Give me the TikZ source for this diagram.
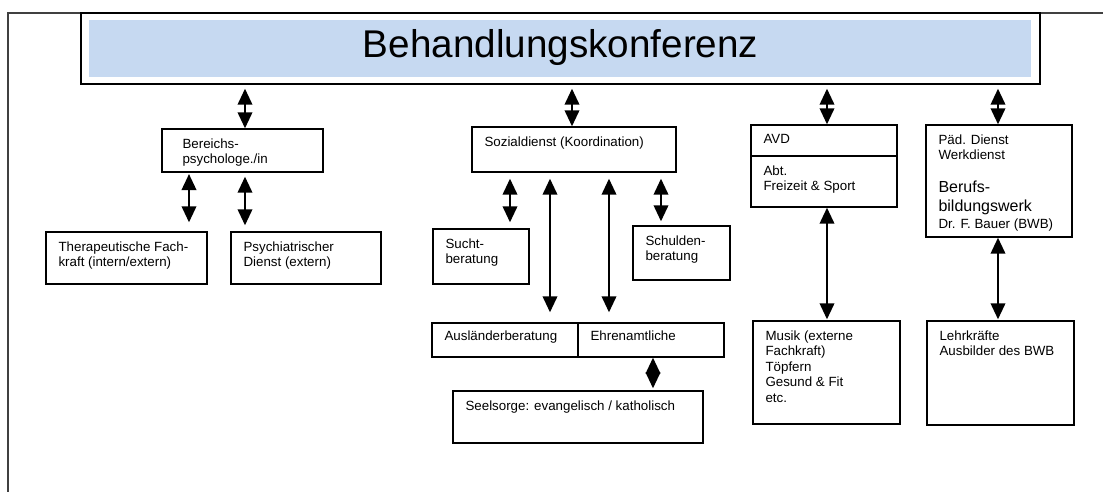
\documentclass[tikz,border=0pt]{standalone}
\usepackage{fontspec}
\setmainfont{Liberation Sans}
\usetikzlibrary{positioning, fit, arrows.meta}

\definecolor{titleblue}{RGB}{198,217,241}

\begin{document}
\begin{tikzpicture}[
    x=0.75pt, y=-0.75pt,
    unit/.style={draw, line width=1.1pt, inner sep=0pt},
    txt/.style={anchor=north west, inner sep=0pt, align=left, xshift=9.75pt, yshift=-7.6pt,
      font=\fontsize{10}{11.6}\selectfont},
    link/.style={{Triangle[width=11pt,length=12pt]}-{Triangle[width=11pt,length=12pt]}, line width=1.3pt}
  ]
  \useasboundingbox (0,0) rectangle (1103,492);
  % page frame
  \draw[line width=0.9pt, black!75] (8,492) -- (8,13) -- (1103,13);

  % title
  \node[unit, fill=white, fit={(81,13) (1040,84)}] (konf) {};
  \node[fill=titleblue, inner sep=0pt, fit={(89,20) (1031,77)}] (konfbg) {};
  \node[anchor=base, inner sep=0pt, yshift=-7pt, font=\fontsize{29}{34}\selectfont] (konftxt)
    at (konf.center) {Behandlungskonferenz};

  % first row
  \node[unit, fit={(162,129) (323,172)}] (psy) {};
  \node[txt, xshift=6pt] (psytxt) at (psy.north west) {Bereichs-\\psychologe./in};
  \node[unit, fit={(472,127) (676,172)}] (soz) {};
  \node[txt] (soztxt) at (soz.north west) {Sozialdienst (Koordination)};
  \node[unit, fit={(751,125) (897,156)}] (avd) {};
  \node[txt] (avdtxt) at (avd.north west) {AVD};
  \node[unit, fit={(751,156) (897,207)}] (abt) {};
  \node[txt] (abttxt) at (abt.north west) {Abt.\\Freizeit \& Sport};
  \node[unit, fit={(926,125) (1072,237)}] (pad) {};
  \node[txt] (padtxt) at (pad.north west) {Päd. Dienst\\Werkdienst};
  \node[txt, yshift=-35pt, font=\fontsize{12}{14.2}\selectfont] (bwbtxt) at (pad.north west) {Berufs-\\bildungswerk};
  \node[txt, yshift=-63pt] (drtxt) at (pad.north west) {Dr. F. Bauer (BWB)};

  % second row
  \node[unit, fit={(46,232) (207,284)}] (ther) {};
  \node[txt] (thertxt) at (ther.north west) {Therapeutische Fach-\\kraft (intern/extern)};
  \node[unit, fit={(231,232) (381,284)}] (psych) {};
  \node[txt] (psychtxt) at (psych.north west) {Psychiatrischer\\Dienst (extern)};
  \node[unit, fit={(433,229) (529,284)}] (sucht) {};
  \node[txt] (suchttxt) at (sucht.north west) {Sucht-\\beratung};
  \node[unit, fit={(633,226) (730,280)}] (schul) {};
  \node[txt] (schultxt) at (schul.north west) {Schulden-\\beratung};
  \node[unit, fit={(432,323) (578,357)}] (aus) {};
  \node[txt, yshift=1pt] (austxt) at (aus.north west) {Ausländerberatung};
  \node[unit, fit={(578,323) (724,357)}] (ehr) {};
  \node[txt, yshift=1pt] (ehrtxt) at (ehr.north west) {Ehrenamtliche};
  \node[unit, fit={(453,391) (703,443)}] (seel) {};
  \node[txt] (seeltxt) at (seel.north west) {Seelsorge: evangelisch / katholisch};
  \node[unit, fit={(753,321) (900,424)}] (musik) {};
  \node[txt] (musiktxt) at (musik.north west) {Musik (externe\\Fachkraft)\\Töpfern\\Gesund \& Fit\\etc.};
  \node[unit, fit={(927,321) (1074,425)}] (lehr) {};
  \node[txt] (lehrtxt) at (lehr.north west) {Lehrkräfte\\Ausbilder des BWB};

  % connectors
  \draw[link, shorten <=3pt] (konf.south -| 245,0) -- (psy.north -| 245,0);
  \draw[link, shorten <=3pt] (konf.south -| 572,0) -- (soz.north -| 572,0);
  \draw[link, shorten <=3pt] (konf.south -| 827,0) -- (avd.north -| 827,0);
  \draw[link, shorten <=3pt] (konf.south -| 998,0) -- (pad.north -| 998,0);
  \draw[link, shorten <=1pt, shorten >=6.75pt] (psy.south -| 189,0) -- (ther.north -| 189,0);
  \draw[link, shorten <=3pt, shorten >=4.5pt] (psy.south -| 245,0) -- (psych.north -| 245,0);
  \draw[link, shorten <=4.5pt, shorten >=4.5pt] (soz.south -| 510,0) -- (sucht.north -| 510,0);
  \draw[link, shorten <=4.5pt, shorten >=7.5pt] (soz.south -| 550,0) -- (aus.north -| 550,0);
  \draw[link, shorten <=4.5pt, shorten >=7.5pt] (soz.south -| 609,0) -- (ehr.north -| 609,0);
  \draw[link, shorten <=4.5pt, shorten >=3pt] (soz.south -| 661,0) -- (schul.north -| 661,0);
  \draw[link, shorten >=1.5pt] (ehr.south -| 653,0) -- (seel.north -| 653,0);
  \draw[link, shorten >=0.75pt] (abt.south -| 827,0) -- (musik.north -| 827,0);
  \draw[link, shorten >=0.75pt] (pad.south -| 998,0) -- (lehr.north -| 998,0);
\end{tikzpicture}
\end{document}
